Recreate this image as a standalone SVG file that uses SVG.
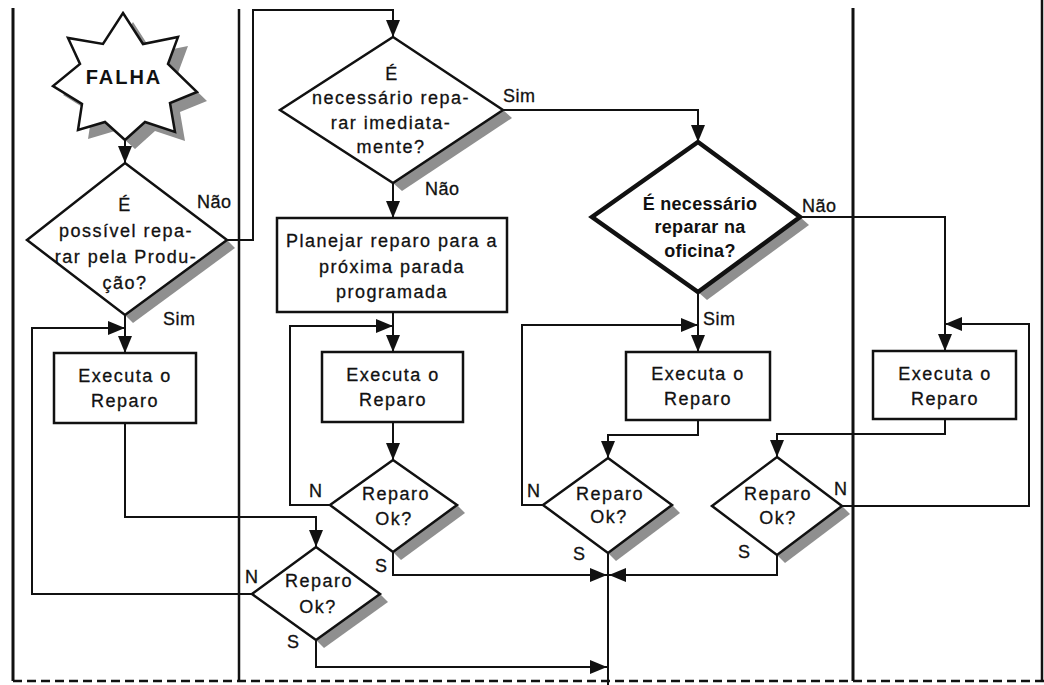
<svg xmlns="http://www.w3.org/2000/svg" width="1044" height="685" viewBox="0 0 1044 685">
  <style>
    .lane { stroke:#111; stroke-width:3; fill:none; }
    .dash { stroke:#111; stroke-width:2.5; fill:none; stroke-dasharray:9 5; }
    .shape { fill:#fff; stroke:#111; stroke-width:2.5; }
    .bold { fill:#fff; stroke:#111; stroke-width:4.5; stroke-linejoin:miter; }
    .shadow { fill:#8f8f8f; stroke:none; }
    .conn { fill:none; stroke:#111; stroke-width:2; }
    .arr { marker-end:url(#ah); }
    .t { font-family:"Liberation Sans", Arial, Helvetica, sans-serif; font-size:18px; letter-spacing:1.5px; text-anchor:middle; fill:#111; stroke:#111; stroke-width:0.3px; }
    .tb { font-family:"Liberation Sans", Arial, Helvetica, sans-serif; font-size:18px; font-weight:bold; letter-spacing:0.3px; text-anchor:middle; fill:#111; }
    .tf { font-family:"Liberation Sans", Arial, Helvetica, sans-serif; font-size:20px; font-weight:bold; letter-spacing:2px; text-anchor:middle; fill:#111; }
    .lb { font-family:"Liberation Sans", Arial, Helvetica, sans-serif; font-size:18px; letter-spacing:0.5px; fill:#111; stroke:#111; stroke-width:0.3px; }
  </style>
  <defs>
    <marker id="ah" markerUnits="userSpaceOnUse" markerWidth="17" markerHeight="14" refX="17" refY="7" orient="auto">
      <path d="M0,0 L17,7 L0,14 Z" fill="#111"/>
    </marker>
  </defs>
  <rect width="1044" height="685" fill="#fff"/>

  <g id="lanes">
    <line class="lane" x1="13" y1="8" x2="13" y2="681"/>
    <line class="lane" x1="239" y1="9" x2="239" y2="681" style="stroke-width:2.5"/>
    <line class="lane" x1="853" y1="8" x2="853" y2="681"/>
    <line class="lane" x1="1042" y1="0" x2="1042" y2="681" style="stroke-width:2.5"/>
    <line class="dash" x1="13" y1="681" x2="1044" y2="681"/>
  </g>

  <g id="connectors">
    <polyline class="conn arr" points="125,140 125,163"/>
    <polyline class="conn arr" points="227,240 253,240 253,10 393,10 393,37"/>
    <polyline class="conn arr" points="125,315 125,353"/>
    <polyline class="conn arr" points="252,594 32,594 32,328 125,328"/>
    <polyline class="conn arr" points="125,423 125,517 316,517 316,547"/>
    <polyline class="conn arr" points="316,640 316,667 607,667"/>
    <polyline class="conn arr" points="393,183 393,218"/>
    <polyline class="conn arr" points="503,110 698,110 698,142"/>
    <polyline class="conn arr" points="393,312 393,352"/>
    <polyline class="conn arr" points="330,505 290,505 290,326 393,326"/>
    <polyline class="conn arr" points="393,422 393,460"/>
    <polyline class="conn arr" points="393,552 393,575 607,575"/>
    <polyline class="conn arr" points="698,292 698,352"/>
    <polyline class="conn arr" points="543,505 522,505 522,325 698,325"/>
    <polyline class="conn arr" points="698,420 698,435 608,435 608,458"/>
    <polyline class="conn" points="608,553 608,685"/>
    <polyline class="conn arr" points="777,555 777,575 609,575"/>
    <polyline class="conn arr" points="800,217 945,217 945,351"/>
    <polyline class="conn arr" points="842,506 1029,506 1029,324 945,324"/>
    <polyline class="conn arr" points="945,419 945,434 777,434 777,457"/>
  </g>

  <g id="falha">
    <polygon class="shadow" transform="translate(10,9)" points="123,13 143,44 178,37 168,64 197,92 170,103 175,132 145,122 125,140 105,122 78,130 82,104 53,86 80,64 68,38 103,44"/>
    <polygon class="shape" points="123,13 143,44 178,37 168,64 197,92 170,103 175,132 145,122 125,140 105,122 78,130 82,104 53,86 80,64 68,38 103,44"/>
    <text class="tf" x="124" y="84">FALHA</text>
  </g>

  <g id="dec-producao">
    <polygon class="shadow" points="227,240 235,248 133,323 125,315"/>
    <polygon class="shape" points="125,163 227,240 125,315 27,240"/>
    <text class="t" x="125" y="211">É</text>
    <text class="t" x="126" y="237">possível repa-</text>
    <text class="t" x="126" y="263">rar pela Produ-</text>
    <text class="t" x="125" y="289">ção?</text>
    <text class="lb" x="197" y="208">Não</text>
    <text class="lb" x="163" y="325">Sim</text>
  </g>

  <g id="exec-1">
    <rect class="shape" x="54" y="353" width="142" height="70"/>
    <text class="t" x="125" y="382">Executa o</text>
    <text class="t" x="125" y="407">Reparo</text>
  </g>

  <g id="ok-1">
    <polygon class="shadow" points="380,594 388,602 324,648 316,640"/>
    <polygon class="shape" points="316,547 380,594 316,640 252,594"/>
    <text class="t" x="319" y="587">Reparo</text>
    <text class="t" x="318" y="613">Ok?</text>
    <text class="lb" x="245" y="583">N</text>
    <text class="lb" x="287" y="648">S</text>
  </g>

  <g id="dec-imediato">
    <polygon class="shadow" points="503,110 512,118 402,191 393,183"/>
    <polygon class="shape" points="393,37 503,110 393,183 280,110"/>
    <text class="t" x="392" y="80">É</text>
    <text class="t" x="391" y="104">necessário repa-</text>
    <text class="t" x="391" y="129">rar imediata-</text>
    <text class="t" x="391" y="153">mente?</text>
    <text class="lb" x="503" y="102">Sim</text>
    <text class="lb" x="425" y="195">Não</text>
  </g>

  <g id="planejar">
    <rect class="shape" x="277" y="218" width="230" height="94"/>
    <text class="t" x="392" y="247">Planejar reparo para a</text>
    <text class="t" x="392" y="273">próxima parada</text>
    <text class="t" x="392" y="298">programada</text>
  </g>

  <g id="exec-2">
    <rect class="shape" x="322" y="352" width="141" height="70"/>
    <text class="t" x="393" y="381">Executa o</text>
    <text class="t" x="393" y="406">Reparo</text>
  </g>

  <g id="ok-2">
    <polygon class="shadow" points="457,505 465,513 401,560 393,552"/>
    <polygon class="shape" points="393,460 457,505 393,552 330,505"/>
    <text class="t" x="396" y="500">Reparo</text>
    <text class="t" x="394" y="525">Ok?</text>
    <text class="lb" x="309" y="497">N</text>
    <text class="lb" x="375" y="572">S</text>
  </g>

  <g id="dec-oficina">
    <polygon class="shadow" points="800,217 809,225 707,300 698,292"/>
    <polygon class="bold" points="698,142 800,217 698,292 592,217"/>
    <text class="tb" x="700" y="210">É necessário</text>
    <text class="tb" x="700" y="233">reparar na</text>
    <text class="tb" x="700" y="257">oficina?</text>
    <text class="lb" x="802" y="212">Não</text>
    <text class="lb" x="703" y="325">Sim</text>
  </g>

  <g id="exec-3">
    <rect class="shape" x="626" y="352" width="144" height="68"/>
    <text class="t" x="698" y="380">Executa o</text>
    <text class="t" x="698" y="405">Reparo</text>
  </g>

  <g id="ok-3">
    <polygon class="shadow" points="672,505 680,513 616,561 608,553"/>
    <polygon class="shape" points="608,458 672,505 608,553 543,505"/>
    <text class="t" x="610" y="500">Reparo</text>
    <text class="t" x="609" y="523">Ok?</text>
    <text class="lb" x="527" y="497">N</text>
    <text class="lb" x="573" y="560">S</text>
  </g>

  <g id="exec-4">
    <rect class="shape" x="873" y="351" width="143" height="68"/>
    <text class="t" x="945" y="380">Executa o</text>
    <text class="t" x="945" y="405">Reparo</text>
  </g>

  <g id="ok-4">
    <polygon class="shadow" points="842,506 850,514 785,563 777,555"/>
    <polygon class="shape" points="777,457 842,506 777,555 712,506"/>
    <text class="t" x="778" y="500">Reparo</text>
    <text class="t" x="778" y="524">Ok?</text>
    <text class="lb" x="834" y="495">N</text>
    <text class="lb" x="738" y="558">S</text>
  </g>
</svg>
